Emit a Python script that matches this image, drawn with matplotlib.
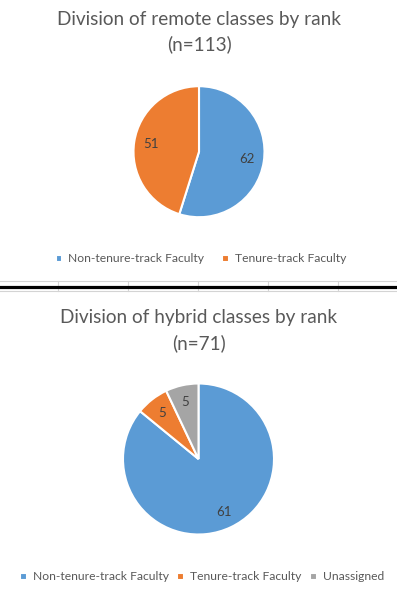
import numpy as np
import matplotlib
matplotlib.use('Agg')
import matplotlib.pyplot as plt
from matplotlib.lines import Line2D

plt.rcParams['font.family'] = ['Lato', 'DejaVu Sans']

# data
remote_labels = ['Non-tenure-track Faculty', 'Tenure-track Faculty']
remote_values = [62, 51]
hybrid_labels = ['Non-tenure-track Faculty', 'Tenure-track Faculty', 'Unassigned']
hybrid_values = [61, 5, 5]
colors = ['#5B9BD5', '#ED7D31', '#A5A5A5']

W, H = 397, 589
fig = plt.figure(figsize=(W / 100, H / 100), dpi=100)

def px_axes(cx, cy, r):
    # axes box in pixels -> figure fraction
    return fig.add_axes([(cx - r) / W, (H - cy - r) / H, 2 * r / W, 2 * r / H])

def draw_pie(ax, values, pctd):
    total = sum(values)
    wedges, texts, autotexts = ax.pie(
        values, colors=colors[:len(values)], startangle=90, counterclock=False,
        autopct=lambda p: '%d' % round(p * total / 100), pctdistance=pctd,
        wedgeprops=dict(edgecolor='white', linewidth=1.5),
        textprops=dict(color='#404040', fontsize=9.5))
    ax.set_xlim(-1, 1)
    ax.set_ylim(-1, 1)
    ax.set_aspect('equal')
    return wedges

# TOP CHART
fig.text(199 / W, 1 - 19 / H, 'Division of remote classes by rank', ha='center', va='center',
         fontsize=13.7, color='#595959')
fig.text(199 / W, 1 - 44 / H, '(n=113)', ha='center', va='center',
         fontsize=13.7, color='#595959')
ax1 = px_axes(199, 151.7, 65.5)
w1 = draw_pie(ax1, remote_values, 0.74)
fig.legend(w1, remote_labels, loc='center', bbox_to_anchor=(201 / W, 1 - 259 / H),
           ncol=2, frameon=False, fontsize=8.7, labelcolor='#595959',
           handlelength=0.55, handleheight=0.55, handletextpad=0.5, columnspacing=1.5)

# SEPARATOR (sheet gridlines)
for y in [281, 291]:
    fig.add_artist(Line2D([0, 1], [1 - y / H] * 2, color='#d4d4d4', lw=0.8))
for x in [58, 128, 198, 268, 338]:
    fig.add_artist(Line2D([x / W] * 2, [1 - 281 / H, 1 - 291 / H], color='#d4d4d4', lw=0.8))
fig.add_artist(Line2D([0, 1], [1 - 287 / H] * 2, color='black', lw=2.3))

# BOTTOM CHART
fig.text(199 / W, 1 - 318 / H, 'Division of hybrid classes by rank', ha='center', va='center',
         fontsize=13.7, color='#595959')
fig.text(199 / W, 1 - 343 / H, '(n=71)', ha='center', va='center',
         fontsize=13.7, color='#595959')
ax2 = px_axes(198.5, 459, 75.5)
w2 = draw_pie(ax2, hybrid_values, 0.78)
fig.legend(w2, hybrid_labels, loc='center', bbox_to_anchor=(202 / W, 1 - 577 / H),
           ncol=3, frameon=False, fontsize=8.7, labelcolor='#595959',
           handlelength=0.55, handleheight=0.55, handletextpad=0.5, columnspacing=0.7)

fig.savefig('out.png', dpi=100, facecolor='white')
